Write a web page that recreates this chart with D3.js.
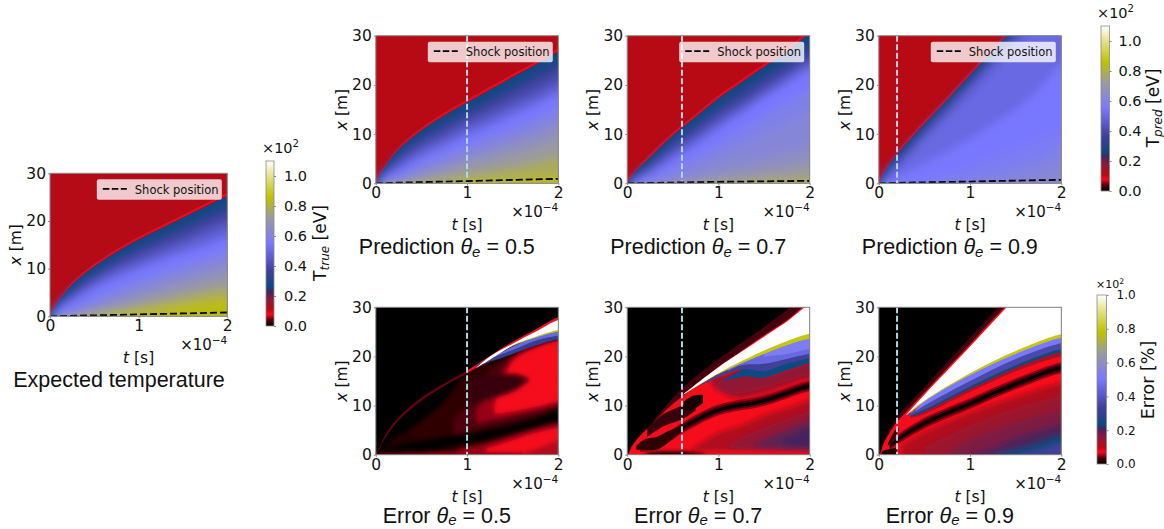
<!DOCTYPE html>
<html>
<head>
<meta charset="utf-8">
<style>
  html, body { margin: 0; background: #fff; }
  svg { display: block; }
  text { fill: #111; }
</style>
<script src="https://cdn.jsdelivr.net/npm/d3@7"></script>
</head>
<body>
<script>
const width = 1164;
const height = 529;

// colormap, as fractions of the colorbar
const cmapStops = [0, 0.035, 0.07, 0.1, 0.16, 0.21, 0.235, 0.25, 0.33, 0.5, 0.655, 0.78, 0.9, 1];
const cmapColors = ["#000000", "#50000a", "#f5081f", "#b80a14", "#8b1a3c", "#45245f", "#0a4a80",
  "#1a4585", "#3f3f98", "#7878ff", "#9a9aa0", "#c0c000", "#e0e080", "#ffffff"];

const xTicks = [0, 1, 2];
const yTicks = [0, 10, 20, 30];
const tempTicks = [0, 0.2, 0.4, 0.6, 0.8, 1.0];
const errorTicks = [0, 0.2, 0.4, 0.6, 0.8, 1.0];

// times (x1e-4 s) at which the isotherms were read
const tKnots = [0, 0.05, 0.1, 0.25, 0.5, 0.75, 1, 1.25, 1.5, 1.75, 2];

// temperature level of each isotherm (x1e2 eV)
const tempLevels = [0.08, 0.17, 0.26, 0.33, 0.40, 0.47, 0.55, 0.60, 0.66, 0.72, 0.78, 0.84];
// position x [m] of each isotherm at tKnots
const trueIso = [
  [0, 2.3, 3.7, 7.2, 11, 14.1, 16.7, 19, 21.3, 23.6, 25.8],
  [0, 2, 3.4, 6.8, 10.55, 13.6, 16.2, 18.5, 20.8, 23.1, 25.3],
  [0, 1.9, 3.3, 6.6, 10.4, 13.4, 16, 18.3, 20.6, 22.9, 25],
  [0, 1.7, 3, 5.9, 9.4, 12.3, 14.8, 17, 19.1, 21.3, 23.3],
  [0, 1.4, 2.6, 5, 8.3, 11, 13.3, 15.3, 17.3, 19.4, 21.3],
  [0, 1.1, 2.2, 4.2, 7.2, 9.7, 11.7, 13.7, 15.5, 17.5, 19.2],
  [0, 0.7, 1.6, 3.2, 6, 8.2, 10, 11.8, 13.4, 15, 16.6],
  [0, 0.2, 0.5, 1.5, 3.8, 5.8, 7.5, 9.2, 10.8, 12.3, 13.8],
  [0, 0, 0.2, 0.6, 2.2, 3.9, 5.4, 7, 8.4, 9.8, 11],
  [0, 0, 0, 0.3, 1.1, 2.4, 3.6, 5, 6.2, 7.4, 8.5],
  [0, 0, 0, 0, 0.4, 1.2, 2.2, 3.2, 4.2, 5.2, 6],
  [0, 0, 0, 0, 0, 0.4, 1, 1.8, 2.6, 3.4, 4]
];
const pred05Iso = [
  [0, 2.3, 3.6, 7.4, 11.3, 14.4, 17, 19.6, 22.2, 24.7, 27.3],
  [0, 2, 3.3, 7, 10.85, 13.9, 16.5, 19.1, 21.7, 24.2, 26.8],
  [0, 1.9, 3.2, 6.8, 10.7, 13.7, 16.3, 18.9, 21.5, 24, 26.5],
  [0, 1.7, 2.9, 6.1, 9.7, 12.4, 15, 17.4, 20, 22.4, 24.8],
  [0, 1.4, 2.5, 5.1, 8.4, 10.9, 13.4, 15.6, 18, 20.4, 22.6],
  [0, 1, 2, 4, 7, 9.3, 11.7, 13.8, 16, 18.1, 20.4],
  [0, 0.6, 1.3, 2.7, 5.4, 7.6, 9.8, 11.8, 13.9, 16, 18.3],
  [0, 0.1, 0.5, 1.5, 3.9, 5.8, 7.7, 9.4, 11.2, 13.2, 15.2],
  [0, 0, 0.1, 0.6, 2.4, 4, 5.6, 7.1, 8.7, 10.5, 12.4],
  [0, 0, 0, 0.2, 1.2, 2.5, 3.9, 5, 6.2, 7.6, 9],
  [0, 0, 0, 0, 0.3, 0.9, 1.8, 2.5, 3.3, 4.3, 5.5],
  [0, 0, 0, 0, 0, 0, 0.3, 0.7, 1, 1.3, 1.6]
];
const pred07Levels = [0.08, 0.17, 0.26, 0.33, 0.40, 0.47, 0.55, 0.59, 0.62, 0.66, 0.72, 0.78];
const pred07Iso = [
  [0, 1.7, 3, 5.9, 10.3, 14.1, 17.9, 21.1, 24.3, 27.4, 30.9],
  [0, 1.4, 2.7, 5.4, 9.8, 13.6, 17.4, 20.6, 23.8, 26.9, 30.4],
  [0, 1.3, 2.5, 5.2, 9.6, 13.4, 17.2, 20.4, 23.6, 26.7, 30.1],
  [0, 1.1, 2.1, 4.5, 8.7, 12.2, 15.8, 18.9, 22, 25.1, 28.3],
  [0, 0.9, 1.7, 3.7, 7.6, 10.8, 14.2, 17.1, 20.2, 23.1, 26.4],
  [0, 0.5, 1.2, 2.9, 6.3, 9.3, 12.6, 15.5, 18.6, 21.6, 24.6],
  [0, 0.2, 0.7, 1.9, 5, 8, 11.2, 14.3, 17.4, 20.3, 23.2],
  [0, 0, 0.2, 0.8, 3, 5.6, 8.2, 11, 13.8, 16.4, 19],
  [0, 0, 0, 0.3, 1.5, 3.5, 5.5, 7.7, 10, 12.2, 14.5],
  [0, 0, 0, 0, 0.5, 1.5, 3, 4, 5.2, 6.3, 7.5],
  [0, 0, 0, 0, 0, 0.3, 1, 1.7, 2.5, 3.2, 4],
  [0, 0, 0, 0, 0, 0, 0.2, 0.4, 0.7, 1, 1.5]
];
const pred09Levels = [0.08, 0.17, 0.26, 0.33, 0.40, 0.47, 0.50, 0.55, 0.57, 0.60, 0.63];
const pred09Iso = [
  [0, 2.2, 3.9, 7.6, 12.7, 17.6, 22.6, 27.6, 32.5, 37.5, 42.5],
  [0, 1.9, 3.6, 7.1, 12.2, 17.1, 22.1, 27.1, 32, 37, 42],
  [0, 1.8, 3.4, 6.9, 12, 16.9, 21.9, 26.9, 31.8, 36.8, 41.8],
  [0, 1.6, 3, 6.3, 11.5, 16.4, 21.4, 26.4, 31.3, 36.3, 41.3],
  [0, 1.4, 2.7, 5.7, 10.8, 15.6, 20.6, 25.6, 30.5, 35.5, 40.5],
  [0, 1, 2.1, 4.8, 9.8, 14.6, 19.6, 24.6, 29.5, 34.5, 39.5],
  [0, 0.7, 1.5, 3.7, 8.5, 13, 17.5, 22.5, 27.5, 32.5, 37.5],
  [0, 0.2, 0.6, 1.8, 4, 6.5, 9, 12, 15, 19, 24],
  [0, 0, 0, 0.2, 0.8, 2, 3.6, 5.5, 7.3, 9, 11],
  [0, 0, 0, 0, 0, 0.3, 1, 2.2, 3.5, 5, 7],
  [0, 0, 0, 0, 0, 0, 0, 0.4, 1, 2, 3.5]
];

// upstream temperature of each panel
const upstreamTrue = 0.115;
const upstreamPred = 0.11;

// shock position line
const shockT = [0, 0.5, 1, 1.5, 2];
const shockTrue = [0, 0.2, 0.4, 0.6, 0.8];
const shock05 = [0, 0.25, 0.45, 0.7, 0.9];
const shock07 = [0, 0.15, 0.3, 0.4, 0.5];
const shock09 = [0, 0.2, 0.35, 0.55, 0.7];

// error field: [error level, times, lower x, upper x], painted in order
const err05Bands = [
  [0.015, [0.1, 0.3, 0.6, 0.9, 1.1], [1, 2, 3, 3.8, 4.2], [2, 4.5, 8, 13, 15]],
  [0.02, [0.4, 0.7, 1, 1.25, 1.5, 1.75, 2], [3.2, 3.6, 4.2, 5, 6, 7.3, 8.9], [5.5, 10, 16.5, 18.8, 21, 22.5, 23.6]],
  [0.035, [0.85, 1, 1.25, 1.5, 1.75, 2], [4, 4.8, 5.8, 6.8, 8, 9.5], [7, 10, 17, 20, 22.3, 23.5]],
  [0.05, [1.1, 1.25, 1.5, 1.75, 2], [6.4, 7, 8, 9, 10.3], [9, 13, 19.5, 22, 23.3]],
  [0.07, [1.3, 1.5, 1.75, 2], [8.2, 8.8, 9.7, 10.8], [10, 19, 21.7, 23.2]],
  [0.025, [1, 1.2, 1.4, 1.55, 1.68], [10, 11, 12, 13.2, 15], [15, 16, 16.5, 16.5, 15.6]],
  [0.02, [0.3, 0.6, 0.9, 1.2, 1.5, 1.75, 2], [0, 0, 0, 0, 0, 0, 0], [0.4, 0.8, 2, 3, 4.5, 5.8, 7]],
  [0.05, [0.9, 1.2, 1.5, 1.75, 2], [0, 0, 0, 0, 0], [1, 2.2, 3.8, 5.2, 6.3]],
  [0.07, [1.2, 1.5, 1.75, 2], [0.5, 0.4, 0.3, 0], [1.2, 3, 4.5, 5.5]],
  [0.11, [1.6, 1.8, 2], [0, 0, 0], [0.2, 1.5, 3]],
  [0.05, [0, 0.25, 0.5, 0.75, 1], [0, 0, 0, 0, 0], [0.2, 0.3, 0.3, 0.4, 0.6]],
  [0.04, [0, 0.1, 0.25, 0.5, 0.75, 1, 1.25], [0.2, 3.3, 7, 11, 14, 16.5, 18.8], [0.4, 3.9, 7.6, 11.6, 14.5, 17.1, 19.4]],
  [0.07, [1, 1.25, 1.5, 1.75, 2], [16.6, 19.5, 22.4, 24.9, 27.4], [17.1, 20.1, 23, 25.5, 28]],
  [0.3, [1.1, 1.3, 1.5, 1.75, 2], [18, 19.2, 20.5, 22.2, 23.5], [18.2, 20.2, 21.8, 23.9, 25.3]],
  [0.45, [1.3, 1.5, 1.75, 2], [19.9, 21.3, 23.2, 24.2], [20, 22, 24, 25.3]],
  [0.8, [1.15, 1.5, 1.75, 2], [18.5, 22.1, 23.8, 25], [18.6, 22.3, 24.1, 25.5]],
  [1, [1.1, 1.25, 1.5, 1.75, 2], [17.6, 19.3, 22.2, 24, 25.4], [17.7, 20, 22.6, 25, 27.4]]
];
const err07Bands = [
  [0.03, [0.3, 0.6, 1, 1.5, 1.93, 2], [6, 12, 17.7, 24, 30, 31], [7.2, 13.5, 19.5, 26, 32, 33]],
  [0.07, [0, 0.05, 0.1, 0.25, 0.5, 0.75, 1, 1.25, 1.5, 1.75, 2], [0, 0, 0, 0, 0, 0, 0, 0, 0, 0, 0], [0, 1.7, 3, 5.9, 10.3, 14.1, 17.9, 21.1, 24.3, 27.4, 30.9]],
  [0, [0.2, 0.3, 0.5, 0.7, 0.85], [0, 0, 0, 0, 0], [0.2, 0.5, 0.6, 0.5, 0.1]],
  [0.11, [0.7, 1, 1.25, 1.5, 1.75, 2], [0.7, 0.8, 0.8, 0.7, 0.6, 0.5], [1, 4.5, 6, 8, 9.5, 11]],
  [0.15, [1.1, 1.25, 1.5, 1.75, 2], [1.2, 1, 0.9, 0.8, 0.7], [1.5, 3.5, 5.5, 7.2, 8.8]],
  [0.19, [1.4, 1.6, 1.8, 2], [1.5, 1.3, 1.1, 1], [2, 4, 5.5, 6.8]],
  [0.21, [1.7, 1.85, 2], [2.2, 1.8, 1.5], [3, 4.2, 5.5]],
  [0.05, [0.14, 0.32, 0.6, 1, 1.5, 2], [0.6, 1, 4.3, 8, 9.9, 12.9], [2.7, 3.1, 6.5, 10.2, 12.1, 15.1]],
  [0.03, [0.14, 0.32, 0.6, 1, 1.5, 2], [1, 1.4, 4.7, 8.4, 10.3, 13.3], [2.3, 2.7, 6.1, 9.8, 11.7, 14.7]],
  [0, [0.14, 0.32, 0.6, 1, 1.5, 2], [1.4, 1.8, 5.1, 8.8, 10.7, 13.7], [1.9, 2.3, 5.7, 9.4, 11.3, 14.3]],
  [0.02, [0.1, 0.2, 0.32, 0.45, 0.6], [1, 1, 1, 2.5, 4.8], [1.8, 3.2, 3.6, 4.8, 6]],
  [0.025, [0.22, 0.4, 0.6, 0.75], [3.6, 5.8, 7.2, 9], [5.4, 8.3, 10, 11.6]],
  [0.01, [0.62, 0.72, 0.83], [9, 9.2, 10.5], [10.8, 12, 12.2]],
  [0.12, [0.9, 1.1, 1.25, 1.5, 1.75, 2], [15, 12, 11.5, 12.5, 14, 15.5], [15.8, 16.5, 17.6, 16.2, 17.5, 19]],
  [0.15, [0.95, 1.1, 1.25, 1.5, 1.75, 2], [13.5, 12.5, 12.5, 13.5, 15, 16.2], [14, 16, 17.2, 16.2, 17.5, 19]],
  [0.24, [1.05, 1.25, 1.3, 1.4, 1.5, 1.75, 2], [15, 15.8, 16, 15.7, 15.7, 17.2, 18.6], [15.2, 17.2, 17.8, 17.6, 17.8, 19, 20]],
  [0.33, [0.8, 1, 1.25, 1.5, 1.75, 2], [14, 15.8, 17.4, 17, 18.5, 19.6], [14.2, 16.5, 18.5, 20.5, 22.2, 24]],
  [0.45, [1.1, 1.25, 1.5, 1.75, 2], [17, 18.2, 18.5, 19.5, 20.5], [17.2, 19, 20.7, 22.4, 24]],
  [0.52, [1.5, 1.75, 2], [20, 20.5, 21.5], [20.6, 22.3, 23.7]],
  [0.8, [0.6, 1, 1.5, 1.75, 2], [12, 16.4, 20.5, 22.3, 23.6], [12.1, 16.8, 21.4, 23.3, 25]],
  [1, [0.62, 1, 1.5, 1.75, 2], [12.3, 16.6, 21.2, 23.1, 24.6], [12.4, 17.8, 24, 27.1, 30.5]]
];
const err09Bands = [
  [0.03, [0.05, 0.2, 0.5, 1, 1.27, 1.5], [1.5, 6, 12, 22, 27.5, 32], [2.5, 7.6, 13.8, 23.8, 29.2, 34]],
  [0.07, [0, 0.05, 0.1, 0.2, 0.25, 0.5, 0.75, 1, 1.25, 1.5, 2], [0, 0, 0, 0, 0, 0, 0, 0, 0, 0, 0], [0, 2.2, 3.9, 6.7, 7.7, 12.7, 17.6, 22.5, 27.5, 32.4, 42]],
  [0.11, [0.25, 0.5, 1, 1.5, 2], [0, 0, 0, 0, 0], [2, 4.6, 8.6, 11.8, 14.6]],
  [0.14, [0.5, 0.75, 1, 1.5, 2], [0, 0, 0, 0, 0], [1.5, 3.8, 6, 9.5, 12]],
  [0.17, [0.75, 1, 1.5, 2], [0, 0, 0, 0], [0.4, 3, 6.5, 9]],
  [0.2, [1, 1.25, 1.5, 2], [0, 0, 0, 0], [0.2, 1.5, 3.6, 6.2]],
  [0.22, [1.25, 1.5, 1.75, 2], [0, 0, 0, 0], [0.3, 1.6, 3, 4.6]],
  [0.235, [1.3, 1.5, 1.75, 2], [0, 0, 0, 0], [0.1, 0.8, 2, 3.6]],
  [0.33, [1.55, 1.75, 2], [0, 0, 0], [0.2, 0.9, 2.4]],
  [0.05, [0.12, 0.2, 0.5, 1, 1.5, 2], [0.8, 2, 5.3, 9.3, 13.3, 16.6], [2.7, 4, 7.5, 11.5, 15.5, 18.8]],
  [0.03, [0.12, 0.2, 0.5, 1, 1.5, 2], [1.1, 2.4, 5.7, 9.7, 13.7, 17], [2.3, 3.6, 7.1, 11.1, 15.1, 18.4]],
  [0, [0.12, 0.2, 0.5, 1, 1.5, 2], [1.5, 2.75, 6.1, 10.1, 14.1, 17.4], [1.9, 3.25, 6.7, 10.7, 14.7, 18]],
  [0.015, [0.03, 0.08, 0.14, 0.2], [0, 0, 0, 0.3], [0.6, 1, 1.2, 1.5]],
  [0.02, [0.1, 0.14, 0.18, 0.22], [1.8, 2.6, 3.6, 5], [2.2, 3.8, 5, 5.4]],
  [0.13, [0.35, 0.5, 1, 1.5, 2], [7.5, 8.3, 12.8, 17, 20], [7.8, 9, 13.7, 18, 21.2]],
  [0.24, [0.35, 0.5, 1, 1.5, 2], [7.7, 8.8, 13.4, 17.7, 20.9], [7.9, 9.5, 14, 18.3, 21.6]],
  [0.36, [0.32, 0.5, 1, 1.5, 2], [7.8, 9.2, 13.9, 18.2, 21.5], [8, 10.4, 15.4, 19.8, 23]],
  [0.5, [0.4, 0.5, 1, 1.5, 2], [8.8, 10, 15, 19.5, 22.7], [9, 11, 16.3, 20.7, 23.9]],
  [0.8, [0.35, 0.5, 1, 1.5, 2], [8.5, 10.8, 16.2, 20.5, 23.8], [8.7, 11.1, 16.7, 21.2, 24.6]],
  [1, [0.3, 0.5, 1, 1.5, 2], [8, 11, 16.6, 21.1, 24.5], [8.1, 12.2, 22, 32, 42]]
];

const cmap = d3.scaleLinear().domain(cmapStops).range(cmapColors);
const tempColor = (v) => cmap(v / 1.1);

const svg = d3.select("body").append("svg").attr("width", width).attr("height", height);
const defs = svg.append("defs");

function addBlur(id, dev) {
  defs.append("filter").attr("id", id)
    .attr("filterUnits", "userSpaceOnUse")
    .attr("x", 0).attr("y", 0).attr("width", width).attr("height", height)
    .append("feGaussianBlur").attr("stdDeviation", dev);
}
addBlur("soft", 0.6);
addBlur("mid", 2.2);
addBlur("wide", 4);

const tickFont = "'DejaVu Sans'";
const titleFont = "'Liberation Sans'";

function drawFrame(p) {
  const g = svg.append("g");
  const xs = d3.scaleLinear().domain([0, 2]).range([p.left, p.left + p.w]);
  const ys = d3.scaleLinear().domain([0, 30]).range([p.bottom, p.bottom - p.h]);

  defs.append("clipPath").attr("id", "clip" + p.id)
    .append("rect").attr("x", p.left).attr("y", p.bottom - p.h)
    .attr("width", p.w).attr("height", p.h);

  const plot = g.append("g").attr("clip-path", `url(#clip${p.id})`);
  return { g, xs, ys, plot };
}

function paintBands(layer, bands, xs, ys, colorOf) {
  const area = d3.area()
    .x((d) => xs(d.t))
    .y0((d) => ys(d.lo <= 0 && d.hi > 0 ? -2 : d.lo))
    .y1((d) => ys(d.hi))
    .curve(d3.curveCatmullRom.alpha(0.5));
  bands.forEach(([v, ts, lows, highs]) => {
    const pts = ts.map((t, i) => ({ t, lo: lows[i], hi: highs[i] }));
    if (ts[0] === 0) pts.unshift({ ...pts[0], t: -0.1 });
    if (ts[ts.length - 1] === 2) pts.push({ ...pts[pts.length - 1], t: 2.1 });
    layer.append("path").attr("d", area(pts)).attr("fill", colorOf(v));
  });
}

function drawAxes(f, p) {
  const xAxis = d3.axisBottom(f.xs).tickValues(xTicks).tickSizeOuter(0).tickSize(2).tickPadding(2).tickFormat(d3.format("d"));
  const yAxis = d3.axisLeft(f.ys).tickValues(yTicks).tickSizeOuter(0).tickSize(2).tickPadding(2).tickFormat(d3.format("d"));
  const ax = f.g.append("g").attr("transform", `translate(0,${p.bottom})`).call(xAxis);
  const ay = f.g.append("g").attr("transform", `translate(${p.left},0)`).call(yAxis);
  [ax, ay].forEach((a) => {
    a.select(".domain").remove();
    a.selectAll("line").attr("stroke", "#888");
    a.selectAll("text").attr("font-family", tickFont).attr("font-size", 15.5).attr("fill", "#111");
  });
  f.g.append("rect").attr("x", p.left).attr("y", p.bottom - p.h)
    .attr("width", p.w).attr("height", p.h)
    .attr("fill", "none").attr("stroke", "#8a8a8a").attr("stroke-width", 1);

  f.g.append("text").attr("x", p.left + p.w).attr("y", p.bottom + 34)
    .attr("text-anchor", "end").attr("font-family", tickFont).attr("font-size", 15)
    .call((t) => {
      t.append("tspan").text("×10");
      t.append("tspan").attr("dy", -6).attr("font-size", 10.5).text("−4");
    });

  const tl = f.g.append("text").attr("x", p.left + p.w / 2).attr("y", p.bottom + 47)
    .attr("text-anchor", "middle").attr("font-family", tickFont).attr("font-size", 15.5);
  tl.append("tspan").attr("font-style", "italic").text("t");
  tl.append("tspan").text(" [s]");

  const yl = f.g.append("text")
    .attr("transform", `translate(${p.left - 29},${p.bottom - p.h / 2}) rotate(-90)`)
    .attr("text-anchor", "middle").attr("font-family", tickFont).attr("font-size", 15.5);
  yl.append("tspan").attr("font-style", "italic").text("x");
  yl.append("tspan").text(" [m]");

  const tt = f.g.append("text").attr("x", p.left + p.titleX).attr("y", p.bottom + p.titleY)
    .attr("text-anchor", "middle").attr("font-family", titleFont).attr("font-size", 21.5);
  if (p.theta) {
    tt.append("tspan").text(p.title + " ");
    tt.append("tspan").attr("font-style", "italic").text("θ");
    tt.append("tspan").attr("font-style", "italic").attr("font-size", 15).attr("dy", 2.5).text("e");
    tt.append("tspan").attr("dy", -2.5).text(" = " + p.theta);
  } else {
    tt.text(p.title);
  }
}

function drawMarker(f, p) {
  if (p.marker === undefined) return;
  f.plot.append("line")
    .attr("x1", f.xs(p.marker)).attr("x2", f.xs(p.marker))
    .attr("y1", f.ys(30)).attr("y2", f.ys(0))
    .attr("stroke", "#add8e6").attr("stroke-width", 2).attr("stroke-dasharray", "6 2.5");
}

function drawShock(f, p, shock) {
  const line = d3.line().x((d) => f.xs(d[0])).y((d) => f.ys(d[1]));
  f.plot.append("path").attr("d", line(shockT.map((t, i) => [t, shock[i]])))
    .attr("fill", "none").attr("stroke", "#000").attr("stroke-width", 1.8)
    .attr("stroke-dasharray", "7 3");

  const right = p.left + p.w - 5.5;
  const top = p.bottom - p.h + 6;
  const lg = f.g.append("g");
  lg.append("rect").attr("x", right - 125).attr("y", top).attr("width", 125).attr("height", 20.5)
    .attr("rx", 2).attr("fill", "#fff").attr("fill-opacity", 0.78);
  lg.append("line").attr("x1", right - 119).attr("x2", right - 95)
    .attr("y1", top + 9.5).attr("y2", top + 9.5)
    .attr("stroke", "#000").attr("stroke-width", 1.8).attr("stroke-dasharray", "6.5 2.5");
  lg.append("text").attr("x", right - 87).attr("y", top + 14.3)
    .attr("font-family", tickFont).attr("font-size", 11.5).text("Shock position");
}

function drawTempPanel(p) {
  const f = drawFrame(p);
  f.plot.append("rect").attr("x", p.left - 5).attr("y", p.bottom - p.h - 5)
    .attr("width", p.w + 10).attr("height", p.h + 10).attr("fill", tempColor(p.upstream));
  const bands = p.iso.map((row, i) => [p.levels[i], tKnots, tKnots.map(() => 0), row]);
  // the front stays crisp, the temperature behind it is a smooth gradient
  paintBands(f.plot.append("g").attr("filter", "url(#soft)"), bands.slice(0, 3), f.xs, f.ys, tempColor);
  paintBands(f.plot.append("g").attr("filter", "url(#wide)"), bands.slice(3), f.xs, f.ys, tempColor);
  drawMarker(f, p);
  drawShock(f, p, p.shock);
  drawAxes(f, p);
}

function drawErrorPanel(p) {
  const f = drawFrame(p);
  f.plot.append("rect").attr("x", p.left - 5).attr("y", p.bottom - p.h - 5)
    .attr("width", p.w + 10).attr("height", p.h + 10).attr("fill", "#000");
  // broad blobs get a wider blur than the thin features painted over them
  p.layers.forEach(([from, to, blur]) => {
    paintBands(f.plot.append("g").attr("filter", `url(#${blur})`), p.bands.slice(from, to), f.xs, f.ys, cmap);
  });
  drawMarker(f, p);
  drawAxes(f, p);
}

function drawColorbar(c) {
  const id = "grad" + c.id;
  const grad = defs.append("linearGradient").attr("id", id)
    .attr("x1", 0).attr("x2", 0).attr("y1", 1).attr("y2", 0);
  cmapStops.forEach((s, i) => grad.append("stop").attr("offset", s).attr("stop-color", cmapColors[i]));

  const ys = d3.scaleLinear().domain([0, c.max]).range([c.bottom, c.top]);
  const g = svg.append("g");
  g.append("rect").attr("x", c.left).attr("y", c.top).attr("width", c.w).attr("height", c.bottom - c.top)
    .attr("fill", `url(#${id})`).attr("stroke", "#8a8a8a").attr("stroke-width", 0.8);

  const axis = d3.axisRight(ys).tickValues(c.ticks).tickSize(2).tickPadding(c.pad).tickFormat(d3.format(".1f"));
  const a = g.append("g").attr("transform", `translate(${c.left + c.w},0)`).call(axis);
  a.select(".domain").remove();
  a.selectAll("line").attr("stroke", "#888");
  a.selectAll("text").attr("font-family", tickFont).attr("font-size", c.font).attr("fill", "#111");

  g.append("text").attr("x", c.expX).attr("y", c.expY).attr("font-family", tickFont).attr("font-size", c.expFont)
    .call((t) => {
      t.append("tspan").text("×10");
      t.append("tspan").attr("dy", -c.expFont * 0.4).attr("font-size", c.expFont * 0.7).text("2");
    });

  const lab = g.append("text")
    .attr("transform", `translate(${c.labelX},${c.labelY}) rotate(-90)`)
    .attr("text-anchor", "middle").attr("font-family", tickFont).attr("font-size", c.labelFont);
  lab.append("tspan").text(c.label);
  if (c.sub) {
    lab.append("tspan").attr("font-style", "italic").attr("font-size", 12).attr("dy", 3).text(c.sub);
    lab.append("tspan").attr("dy", -3).text(" [eV]");
  }
}

drawTempPanel({ id: "true", left: 50, w: 177.3, bottom: 316.3, h: 143, iso: trueIso, levels: tempLevels, upstream: upstreamTrue,
  shock: shockTrue, title: "Expected temperature", titleX: 69, titleY: 71 });
drawTempPanel({ id: "p05", left: 375.8, w: 182.5, bottom: 183.3, h: 147.6, iso: pred05Iso, levels: tempLevels, upstream: upstreamPred,
  shock: shock05, marker: 1, title: "Prediction", theta: "0.5", titleX: 71, titleY: 71 });
drawTempPanel({ id: "p07", left: 627.2, w: 182.5, bottom: 183.3, h: 147.6, iso: pred07Iso, levels: pred07Levels, upstream: upstreamPred,
  shock: shock07, marker: 0.6, title: "Prediction", theta: "0.7", titleX: 71, titleY: 71 });
drawTempPanel({ id: "p09", left: 878.8, w: 182.5, bottom: 183.3, h: 147.6, iso: pred09Iso, levels: pred09Levels, upstream: upstreamPred,
  shock: shock09, marker: 0.2, title: "Prediction", theta: "0.9", titleX: 71, titleY: 71 });

drawErrorPanel({ id: "e05", left: 375.8, w: 182.5, bottom: 454.7, h: 147.4, bands: err05Bands,
  layers: [[0, 11, "mid"], [11, 17, "soft"]], marker: 1, title: "Error", theta: "0.5", titleX: 71, titleY: 68 });
drawErrorPanel({ id: "e07", left: 627.2, w: 182.5, bottom: 454.7, h: 147.4, bands: err07Bands,
  layers: [[0, 2, "soft"], [2, 7, "mid"], [7, 13, "soft"], [13, 15, "mid"], [15, 21, "soft"]],
  marker: 0.6, title: "Error", theta: "0.7", titleX: 71, titleY: 68 });
drawErrorPanel({ id: "e09", left: 878.8, w: 182.5, bottom: 454.7, h: 147.4, bands: err09Bands,
  layers: [[0, 2, "soft"], [2, 9, "mid"], [9, 20, "soft"]], marker: 0.2, title: "Error", theta: "0.9", titleX: 71, titleY: 68 });

drawColorbar({ id: "a", left: 266, w: 8, top: 161, bottom: 326, max: 1.1, ticks: tempTicks, pad: 8, font: 14.5,
  expX: 262, expY: 153, expFont: 14.5, labelX: 326, labelY: 243, label: "T", sub: "true", labelFont: 17 });
drawColorbar({ id: "b", left: 1101, w: 8.5, top: 26, bottom: 191, max: 1.1, ticks: tempTicks, pad: 7, font: 14.5,
  expX: 1097, expY: 18, expFont: 14.5, labelX: 1159, labelY: 108, label: "T", sub: "pred", labelFont: 17 });
drawColorbar({ id: "c", left: 1097, w: 9.5, top: 295, bottom: 464, max: 1, ticks: errorTicks, pad: 8, font: 12,
  expX: 1096, expY: 288, expFont: 11, labelX: 1154, labelY: 380, label: "Error [%]", labelFont: 17.5 });
</script>
</body>
</html>
